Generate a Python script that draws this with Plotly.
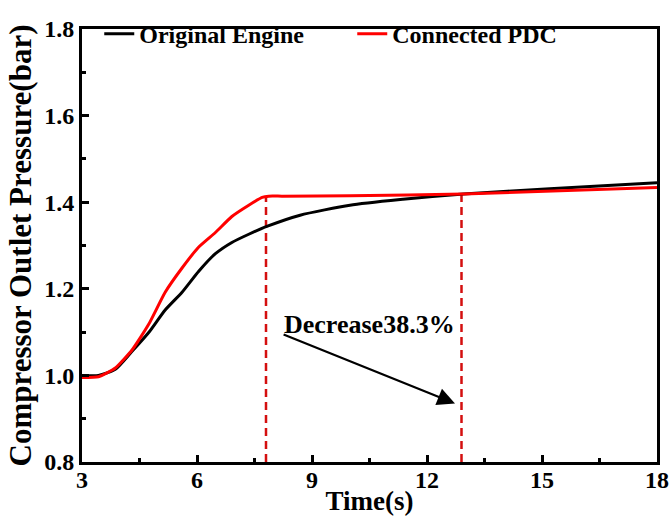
import plotly.graph_objects as go

# Compressor outlet pressure transients (bar) against time (s)
time_orig = [3.0, 3.43, 3.87, 4.30, 4.74, 5.17, 5.61, 6.04, 6.48, 6.91, 7.35, 7.82, 8.69, 9.99, 11.3, 12.95, 15.2, 18.0]
p_orig = [1.000, 1.000, 1.014, 1.055, 1.099, 1.151, 1.192, 1.240, 1.281, 1.307, 1.326, 1.344, 1.370, 1.393, 1.406, 1.419, 1.431, 1.445]

time_pdc = [3.0, 3.43, 3.87, 4.30, 4.74, 5.17, 5.61, 6.04, 6.48, 6.91, 7.35, 7.70, 7.87, 8.22, 9.99, 12.95, 18.0]
p_pdc = [0.995, 0.997, 1.017, 1.058, 1.118, 1.192, 1.248, 1.296, 1.330, 1.367, 1.393, 1.411, 1.414, 1.414, 1.415, 1.419, 1.434]

# Settling-time markers (s) and the pressure each one reaches
marker_times = [7.8, 12.9]
marker_tops = [1.413, 1.419]

# Tick labels
x_ticks = [3, 6, 9, 12, 15, 18]
y_ticks = [0.8, 1.0, 1.2, 1.4, 1.6, 1.8]

# Annotation: arrow from the slower to the faster settling point
note_text = "Decrease38.3%"
note_pos = (10.49, 1.118)
arrow_tail = (8.22, 1.096)
arrow_head = (12.73, 0.935)

FONT = "Liberation Serif"
AXIS_FLOOR = 0.8

fig = go.Figure()

for t, top in zip(marker_times, marker_tops):
    fig.add_trace(go.Scatter(
        x=[t, t], y=[AXIS_FLOOR, top], mode="lines",
        line=dict(color="#d40f0f", width=2.5, dash="8px,5px"),
        showlegend=False, hoverinfo="skip",
    ))

fig.add_trace(go.Scatter(
    x=time_orig, y=p_orig, mode="lines", name="Original Engine",
    line=dict(color="black", width=3, shape="spline", smoothing=0.6),
))
fig.add_trace(go.Scatter(
    x=time_pdc, y=p_pdc, mode="lines", name="Connected PDC",
    line=dict(color="#ff0000", width=3, shape="spline", smoothing=0.5),
))

fig.add_annotation(
    x=arrow_head[0], y=arrow_head[1], ax=arrow_tail[0], ay=arrow_tail[1],
    xref="x", yref="y", axref="x", ayref="y",
    text="", showarrow=True, arrowhead=2, arrowsize=1.6, arrowwidth=2.2,
    arrowcolor="black",
)
fig.add_annotation(
    x=note_pos[0], y=note_pos[1], xref="x", yref="y",
    text=f"<b>{note_text}</b>", showarrow=False,
    font=dict(family=FONT, size=26, color="black"),
)

axis_common = dict(
    showline=True, linecolor="black", linewidth=3, mirror=True,
    ticks="inside", ticklen=7, tickwidth=2.5, tickcolor="black",
    showgrid=False, zeroline=False, automargin=False,
    tickfont=dict(family=FONT, size=24, color="black", weight="bold"),
)

fig.update_xaxes(
    range=[3, 18], tickvals=x_ticks, ticktext=[str(v) for v in x_ticks],
    minor=dict(ticks="inside", ticklen=4, tickwidth=2.5, tickcolor="black", dtick=1.5, tick0=3),
    ticklabelstandoff=-6,
    title=dict(text="Time(s)", standoff=0,
               font=dict(family=FONT, size=27, color="black", weight="bold")),
    **axis_common,
)
fig.update_yaxes(
    range=[0.8, 1.8], tickvals=y_ticks, ticktext=[f"{v:.1f}" for v in y_ticks],
    minor=dict(ticks="inside", ticklen=4, tickwidth=2.5, tickcolor="black", dtick=0.1, tick0=0.8),
    title=dict(text="Compressor Outlet Pressure(bar)", standoff=4,
               font=dict(family=FONT, size=31, color="black", weight="bold")),
    **axis_common,
)

fig.update_layout(
    width=671, height=520,
    margin=dict(l=82, r=14, t=14, b=58),
    plot_bgcolor="white", paper_bgcolor="white",
    legend=dict(
        orientation="h", x=0.03, y=1.04, xanchor="left", yanchor="top",
        bgcolor="rgba(0,0,0,0)", borderwidth=0, tracegroupgap=0,
        itemwidth=30, entrywidth=208, entrywidthmode="pixels",
        font=dict(family=FONT, size=24, color="black", weight="bold"),
    ),
    showlegend=True,
)

fig.write_html("out.html")
